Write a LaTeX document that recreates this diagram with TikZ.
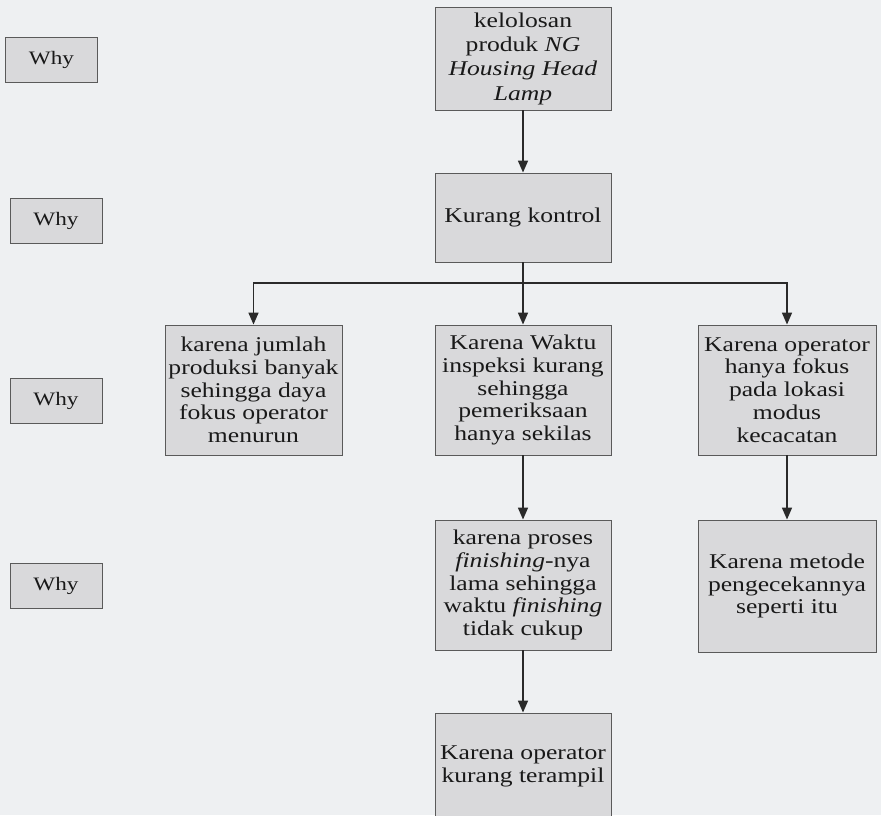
\documentclass[tikz,border=0pt]{standalone}
\usepackage{fontspec}
\setmainfont{Liberation Serif}[FakeStretch=1.22]
\usetikzlibrary{arrows.meta}
\definecolor{bg}{HTML}{EEF0F2}
\definecolor{boxfill}{HTML}{D9D9DB}
\definecolor{boxline}{HTML}{5A5A5A}
\definecolor{arrline}{HTML}{2A2A2A}
\tikzset{
  stepbox/.style={draw=boxline, line width=0.9pt, fill=boxfill, align=center, inner sep=0pt,
    minimum width=176pt, font=\fontsize{21}{22.8}\selectfont, text=black!90},
  whybox/.style={draw=boxline, line width=0.9pt, fill=boxfill, align=center, inner sep=0pt,
    minimum width=92pt, minimum height=45pt, font=\fontsize{19}{21}\selectfont, text=black!90},
  arr/.style={draw=arrline, line width=1.6pt, -{Triangle[width=10pt,length=12pt]}}
}
\begin{document}
\begin{tikzpicture}[x={(1pt,0)}, y={(0,-1pt)}]
\fill[bg] (0,0) rectangle (881,815);
\useasboundingbox (0,0) rectangle (881,815);
\clip (0,0) rectangle (881,815);

\node[whybox] (w1) at (51.5,59.5) {Why};
\node[whybox] (w2) at (56,221) {Why};
\node[whybox] (w3) at (56,400.5) {Why};
\node[whybox] (w4) at (56,585.5) {Why};

\node[stepbox, minimum height=103pt, font=\fontsize{21}{24.3}\selectfont] (top) at (523,58.5) {kelolosan\\produk \textit{NG}\\\textit{Housing Head}\\\textit{Lamp}};
\node[stepbox, minimum height=89pt] (kk) at (523,217.5) {Kurang kontrol};
\node[stepbox, minimum width=177pt, minimum height=130pt] (left) at (253.5,390) {karena jumlah\\produksi banyak\\sehingga daya\\fokus operator\\menurun};
\node[stepbox, minimum height=130pt] (mid) at (523,390) {Karena Waktu\\inspeksi kurang\\sehingga\\pemeriksaan\\hanya sekilas};
\node[stepbox, minimum width=178pt, minimum height=130pt] (right) at (787,390) {Karena operator\\hanya fokus\\pada lokasi\\modus\\kecacatan};
\node[stepbox, minimum height=130pt] (mid2) at (523,585) {karena proses\\\textit{finishing}-nya\\lama sehingga\\waktu \textit{finishing}\\tidak cukup};
\node[stepbox, minimum width=178pt, minimum height=132pt] (right2) at (787,586) {Karena metode\\pengecekannya\\seperti itu};
\node[stepbox, minimum height=106pt] (bot) at (523,766) {Karena operator\\kurang terampil};

\draw[arr] (top) -- (kk);
\coordinate (bus) at (523,283);
\draw[arr] (kk) -- (mid);
\draw[arr] (bus) -| (left.north);
\draw[arr] (bus) -| (right.north);
\draw[arr] (mid) -- (mid2);
\draw[arr] (right) -- (right2);
\draw[arr] (mid2) -- (bot);
\end{tikzpicture}
\end{document}
